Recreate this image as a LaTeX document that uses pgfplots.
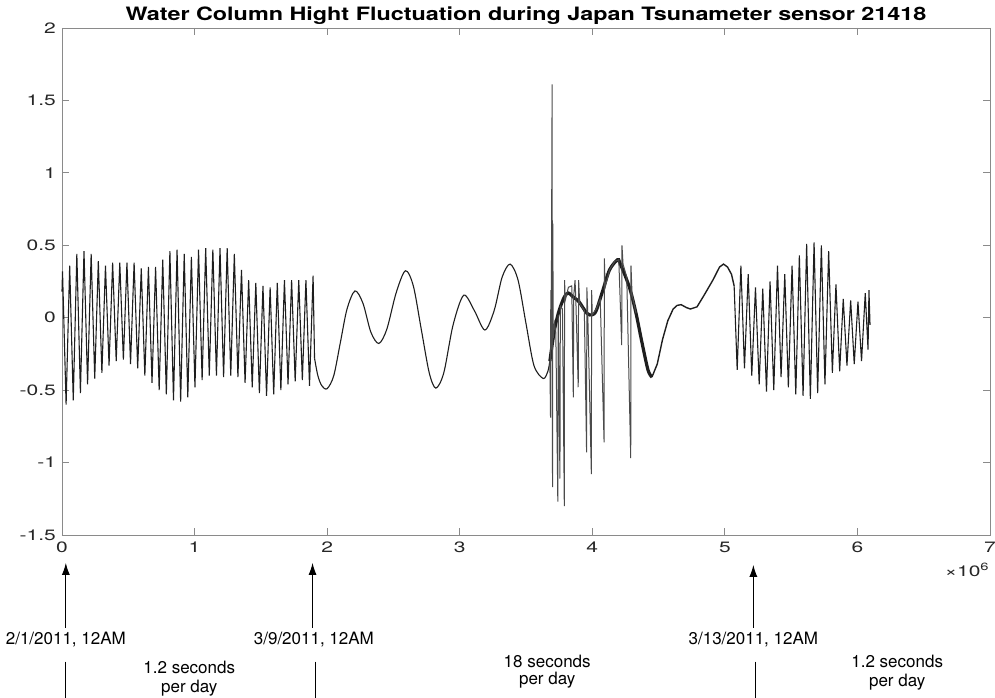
\documentclass[border=0pt]{standalone}
\usepackage{fontspec}
\setmainfont{TeX Gyre Heros}
\newfontfamily\wide[FakeStretch=1.4]{TeX Gyre Heros}
\newfontfamily\widetitle[FakeStretch=1.27]{TeX Gyre Heros}
\usepackage{pgfplots}
\pgfplotsset{compat=1.18}
\usetikzlibrary{arrows.meta}
\definecolor{axgray}{HTML}{8A8A8A}
\definecolor{sig}{HTML}{1E1E1E}

\begin{document}
\begin{tikzpicture}
\begin{axis}[
  scale only axis, width=464pt, height=253.5pt,
  xmin=0, xmax=7, ymin=-1.5, ymax=2,
  xtick={0,1,2,3,4,5,6,7},
  ytick={-1.5,-1,-0.5,0,0.5,1,1.5,2},
  tick align=inside, major tick length=3.5pt,
  axis line style={draw=axgray},
  tick style={draw=axgray, line width=0.4pt},
  ticklabel style={font=\wide\fontsize{7.5}{9}\selectfont, text=black!85},
  yticklabel style={xshift=0.5pt},
  /pgf/number format/assume math mode=true,
  clip=false,
]
% 1.2 s per day: 2/1 - 3/9
\addplot[sig, line width=0.55pt] coordinates {
(0,0.18)
(0.004,0.32) (0.031,-0.60) (0.058,0.36) (0.085,-0.57) (0.112,0.44) (0.139,-0.52)
(0.166,0.46) (0.193,-0.46) (0.220,0.44) (0.247,-0.42) (0.274,0.39) (0.301,-0.38)
(0.328,0.36) (0.355,-0.33) (0.382,0.38) (0.409,-0.30) (0.436,0.38) (0.463,-0.29)
(0.490,0.38) (0.517,-0.32) (0.544,0.38) (0.571,-0.35) (0.598,0.34) (0.625,-0.40)
(0.652,0.35) (0.679,-0.45) (0.706,0.35) (0.733,-0.50) (0.760,0.40) (0.787,-0.53)
(0.814,0.46) (0.841,-0.57) (0.868,0.47) (0.895,-0.58) (0.922,0.44) (0.949,-0.55)
(0.976,0.42) (1.003,-0.48) (1.030,0.47) (1.057,-0.43) (1.084,0.48) (1.111,-0.40)
(1.138,0.47) (1.165,-0.40) (1.192,0.48) (1.219,-0.41) (1.246,0.48) (1.273,-0.40)
(1.300,0.44) (1.327,-0.41) (1.354,0.33) (1.381,-0.45) (1.408,0.26) (1.435,-0.48)
(1.462,0.24) (1.489,-0.52) (1.516,0.22) (1.543,-0.54) (1.570,0.21) (1.597,-0.53)
(1.624,0.24) (1.651,-0.50) (1.678,0.26) (1.705,-0.46) (1.732,0.26) (1.759,-0.44)
(1.786,0.26) (1.813,-0.43) (1.840,0.26) (1.867,-0.47) (1.894,0.29) (1.905,-0.28)
};
% 18 s per day: 3/9 - 3/13
\addplot[sig, line width=0.55pt, smooth] coordinates {
(1.905,-0.28) (1.93,-0.40) (1.96,-0.47) (2.00,-0.49) (2.05,-0.40) (2.10,-0.17)
(2.15,0.06) (2.21,0.185) (2.27,0.10) (2.33,-0.10) (2.39,-0.178) (2.45,-0.08)
(2.52,0.17) (2.59,0.324) (2.65,0.22) (2.71,-0.08) (2.77,-0.38) (2.82,-0.486)
(2.88,-0.38) (2.95,-0.05) (3.03,0.155) (3.11,0.05) (3.19,-0.085) (3.26,0.05)
(3.32,0.28) (3.38,0.37) (3.44,0.26) (3.50,-0.04) (3.56,-0.33) (3.63,-0.42)
(3.665,-0.37) (3.68,-0.30)
};
% noisy band after the quake
\addplot[sig, line width=1.6pt, smooth] coordinates {
(3.68,-0.30) (3.70,-0.17) (3.72,-0.06) (3.75,0.05) (3.79,0.145) (3.82,0.17)
(3.86,0.14) (3.90,0.11) (3.96,0.03) (4.00,0.02) (4.03,0.05) (4.08,0.19)
(4.13,0.33) (4.19,0.40) (4.21,0.375) (4.28,0.21) (4.33,0.03) (4.37,-0.15)
(4.42,-0.36) (4.45,-0.41)
};
% spikes
\addplot[sig!80, line width=0.5pt] coordinates {
(3.680,-0.30) (3.685,-0.69) (3.687,0.19) (3.690,-0.22) (3.697,1.61) (3.700,-1.17)
(3.702,0.65) (3.706,-0.14) (3.715,-0.04) (3.725,-0.10) (3.740,-1.27) (3.743,0.02)
(3.756,-1.11) (3.759,0.08) (3.775,0.06) (3.789,-1.30) (3.791,0.26) (3.796,0.12)
(3.820,0.21) (3.845,0.22) (3.857,-0.55) (3.860,0.15) (3.870,0.26) (3.876,0.12)
(3.894,-0.48) (3.897,0.26) (3.905,0.10) (3.940,0.05) (3.957,-0.93) (3.959,0.21)
(3.966,0.03) (3.993,-1.08) (3.995,0.19) (4.000,0.02) (4.030,0.06) (4.060,0.13)
(4.089,-0.86) (4.091,0.41) (4.097,0.21) (4.130,0.33) (4.170,0.39) (4.200,0.40)
(4.222,-0.19) (4.224,0.50) (4.232,0.37) (4.260,0.28) (4.290,-0.97) (4.292,0.36)
(4.300,0.16) (4.330,0.03)
};
% slow part and 1.2 s per day from 3/13
\addplot[sig, line width=0.7pt] coordinates {
(4.45,-0.41) (4.49,-0.32) (4.53,-0.15) (4.57,-0.02) (4.61,0.06) (4.64,0.085)
(4.67,0.09) (4.71,0.07) (4.74,0.06) (4.79,0.075) (4.84,0.15) (4.91,0.26)
(4.96,0.35) (4.99,0.37) (5.02,0.35) (5.05,0.30) (5.07,0.22)
};
\addplot[sig, line width=0.55pt] coordinates {
(5.07,0.22)
(5.093,-0.36) (5.121,0.36) (5.148,-0.35) (5.176,0.30) (5.203,-0.40) (5.231,0.21)
(5.259,-0.46) (5.286,0.20) (5.314,-0.51) (5.341,0.25) (5.369,-0.50) (5.397,0.36)
(5.424,-0.41) (5.452,0.30) (5.479,-0.48) (5.507,0.36) (5.535,-0.53) (5.562,0.43)
(5.590,-0.54) (5.617,0.51) (5.645,-0.56) (5.673,0.52) (5.700,-0.52) (5.728,0.50)
(5.755,-0.46) (5.783,0.46) (5.811,-0.38) (5.838,0.23) (5.866,-0.37) (5.893,0.13)
(5.921,-0.33) (5.949,0.12) (5.976,-0.32) (6.004,0.11) (6.031,-0.30) (6.059,0.17)
(6.080,-0.22) (6.087,0.19) (6.095,-0.05)
};

\node[font=\widetitle\bfseries\fontsize{9.2}{11}\selectfont, anchor=base, inner sep=0pt]
  at ([yshift=3.5pt]rel axis cs:0.5,1) {Water Column Hight Fluctuation during Japan Tsunameter sensor 21418};

\node[font=\wide\fontsize{7.5}{9}\selectfont, text=black!85, anchor=east, inner sep=0pt]
  at (axis cs:7,-1.741) {×10\textsuperscript{6}};

\begin{scope}[font=\fontsize{8.5}{10}\selectfont]
\draw[line width=0.6pt, -{Latex[length=6pt,width=4pt]}] (axis cs:0.029,-2.141) -- (axis cs:0.029,-1.692);
\draw[line width=0.6pt, -{Latex[length=6pt,width=4pt]}] (axis cs:1.890,-2.141) -- (axis cs:1.890,-1.692);
\draw[line width=0.6pt, -{Latex[length=6pt,width=4pt]}] (axis cs:5.215,-2.141) -- (axis cs:5.215,-1.706);
\node at (axis cs:0.029,-2.224) {2/1/2011, 12AM};
\node at (axis cs:1.900,-2.224) {3/9/2011, 12AM};
\node at (axis cs:5.215,-2.224) {3/13/2011, 12AM};
\draw[line width=0.6pt] (axis cs:0.029,-2.375) -- (axis cs:0.029,-2.65);
\draw[line width=0.6pt] (axis cs:1.914,-2.375) -- (axis cs:1.914,-2.65);
\draw[line width=0.6pt] (axis cs:5.230,-2.375) -- (axis cs:5.230,-2.65);
\node at (axis cs:0.96,-2.417) {1.2 seconds};
\node at (axis cs:0.96,-2.555) {per day};
\node at (axis cs:3.66,-2.375) {18 seconds};
\node at (axis cs:3.66,-2.50) {per day};
\node at (axis cs:6.30,-2.375) {1.2 seconds};
\node at (axis cs:6.30,-2.513) {per day};
\end{scope}

\coordinate (bl) at (rel axis cs:-0.0668,-0.3215);
\coordinate (tr) at (rel axis cs:1.0054,1.0552);
\end{axis}
\pgfresetboundingbox
\path (bl) rectangle (tr);
\end{tikzpicture}
\end{document}
